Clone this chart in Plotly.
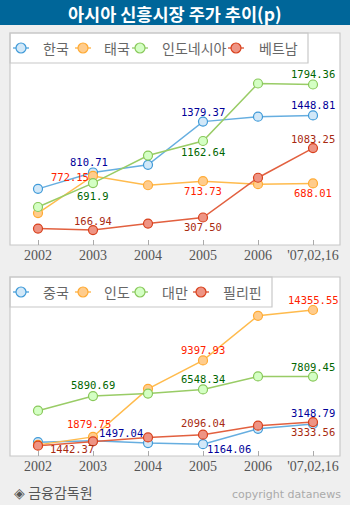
import plotly.graph_objects as go

W, H = 350, 505

years = ["2002", "2003", "2004", "2005", "2006", "'07,02,16"]

# Top panel series
korea = [627.55, 810.71, 895.92, 1379.37, 1434.46, 1448.81]
thailand = [356.48, 772.15, 668.10, 713.73, 679.84, 688.01]
indonesia = [424.95, 691.90, 1000.23, 1162.64, 1805.52, 1794.36]
vietnam = [183.33, 166.94, 239.29, 307.50, 751.77, 1083.25]

# Bottom panel series
china = [1357.65, 1497.04, 1266.50, 1164.06, 2675.47, 3148.79]
india = [1093.50, 1879.75, 6602.69, 9397.93, 13786.91, 14355.55]
taiwan = [4452.45, 5890.69, 6139.69, 6548.34, 7823.72, 7809.45]
philippines = [1018.41, 1442.37, 1822.83, 2096.04, 2982.54, 3333.56]

top_names = ["한국", "태국", "인도네시아", "베트남"]
bot_names = ["중국", "인도", "대만", "필리핀"]

BLUE = dict(line="#66aee0", fill="#d2e8f8", edge="#3f9ad8")
ORANGE = dict(line="#ffbb4d", fill="#ffcc8c", edge="#ffaa33")
GREEN = dict(line="#99cc66", fill="#d4ffc4", edge="#88c85a")
RED = dict(line="#e2603f", fill="#ee9484", edge="#d8401c")
styles = [BLUE, ORANGE, GREEN, RED]

NAVY, DKGREEN, BRRED, DKRED = "#000099", "#006600", "#ff2200", "#a82a10"


def px(x):
    return x / W


def py(y):
    return 1 - y / H


fig = go.Figure()

x_idx = list(range(len(years)))

for series, st, nm in zip([korea, thailand, indonesia, vietnam], styles, top_names):
    fig.add_trace(go.Scatter(
        x=x_idx, y=series, mode="lines+markers", name=nm, xaxis="x", yaxis="y",
        line=dict(color=st["line"], width=1.5),
        marker=dict(size=9, color=st["fill"], line=dict(color=st["edge"], width=1.2)),
        showlegend=False, hoverinfo="skip"))

for series, st, nm in zip([china, india, taiwan, philippines], styles, bot_names):
    fig.add_trace(go.Scatter(
        x=x_idx, y=series, mode="lines+markers", name=nm, xaxis="x2", yaxis="y2",
        line=dict(color=st["line"], width=1.5),
        marker=dict(size=9, color=st["fill"], line=dict(color=st["edge"], width=1.2)),
        showlegend=False, hoverinfo="skip"))

# Data labels: (series, index, color, xshift, yshift, axis)
labels = [
    (korea, 1, NAVY, -4, 10, 1), (thailand, 1, BRRED, -23, -1, 1),
    (indonesia, 1, DKGREEN, 0, -13, 1), (vietnam, 1, DKRED, 0, 9, 1),
    (korea, 3, NAVY, 0, 10, 1), (indonesia, 3, DKGREEN, 0, -11, 1),
    (thailand, 3, BRRED, 0, -10, 1), (vietnam, 3, DKRED, 0, -10, 1),
    (indonesia, 5, DKGREEN, 0, 10, 1), (korea, 5, NAVY, 0, 10, 1),
    (vietnam, 5, DKRED, 0, 9, 1), (thailand, 5, BRRED, 0, -10, 1),
    (india, 5, BRRED, 0, 10, 2), (india, 3, BRRED, 0, 10, 2),
    (taiwan, 5, DKGREEN, 0, 10, 2), (taiwan, 1, DKGREEN, 0, 11, 2),
    (taiwan, 3, DKGREEN, 0, 10, 2), (india, 1, BRRED, -4, 13, 2),
    (china, 1, NAVY, 28, 8, 2), (philippines, 1, DKRED, -21, -8, 2),
    (philippines, 3, DKRED, 0, 12, 2), (china, 3, NAVY, 26, -5, 2),
    (china, 5, NAVY, 0, 11, 2), (philippines, 5, DKRED, 0, -10, 2),
]

annotations = []
for s, i, c, dx, dy, ax in labels:
    v = s[i]
    txt = f"{v:.2f}" if not (abs(v - 691.9) < 1e-6) else "691.9"
    annotations.append(dict(
        x=x_idx[i], y=v, xref="x" if ax == 1 else "x2", yref="y" if ax == 1 else "y2",
        text=txt, showarrow=False, xshift=dx, yshift=dy,
        font=dict(family="DejaVu Sans Mono", size=10.5, color=c)))

shapes = []
# title bar
shapes.append(dict(type="rect", xref="paper", yref="paper", x0=0, x1=1, y0=py(25), y1=1,
                   fillcolor="#006699", line=dict(width=0), layer="below"))
# panels
for (t, b, lr) in [(33, 245, 308), (277, 456, 272)]:
    shapes.append(dict(type="rect", xref="paper", yref="paper", x0=px(10), x1=px(340),
                       y0=py(b), y1=py(t), fillcolor="white",
                       line=dict(color="#c8c8c8", width=1.2), layer="below"))
    shapes.append(dict(type="rect", xref="paper", yref="paper", x0=px(10), x1=px(lr),
                       y0=py(t + 30), y1=py(t), fillcolor="rgba(0,0,0,0)",
                       line=dict(color="#c8c8c8", width=1.2), layer="below"))

# manual legends
leg_specs = [
    (top_names, [21, 83, 140, 236], [41, 102, 160, 257], 48),
    (bot_names, [21, 83, 140, 201], [41, 102, 160, 221], 292),
]
for names, mx, tx, yc in leg_specs:
    for nm, m, t, st in zip(names, mx, tx, styles):
        shapes.append(dict(type="line", xref="paper", yref="paper", x0=px(m - 8), x1=px(m + 8),
                           y0=py(yc), y1=py(yc), line=dict(color=st["edge"], width=1.2)))
        shapes.append(dict(type="circle", xref="paper", yref="paper", x0=px(m - 5), x1=px(m + 5),
                           y0=py(yc + 5), y1=py(yc - 5), fillcolor=st["fill"],
                           line=dict(color=st["edge"], width=1.2)))
        annotations.append(dict(x=px(t), y=py(yc), xref="paper", yref="paper", text=nm,
                                showarrow=False, xanchor="left", yanchor="middle",
                                font=dict(family="Noto Sans CJK KR", size=14, color="#666666")))

annotations.append(dict(x=0.5, y=py(13), xref="paper", yref="paper",
                        text="<b>아시아 신흥시장 주가 추이(p)</b>", showarrow=False,
                        xanchor="center", yanchor="middle",
                        font=dict(family="Noto Sans CJK KR", size=17.5, color="white")))
annotations.append(dict(x=px(12), y=py(492), xref="paper", yref="paper",
                        text="◈ 금융감독원", showarrow=False, xanchor="left", yanchor="middle",
                        font=dict(family="Noto Sans CJK KR", size=14, color="#555555")))
annotations.append(dict(x=px(343), y=py(494), xref="paper", yref="paper",
                        text="copyright datanews", showarrow=False, xanchor="right",
                        yanchor="middle",
                        font=dict(family="DejaVu Sans", size=11, color="#aaaaaa")))

xcommon = dict(range=[-0.509, 5.491], tickvals=x_idx, ticktext=years, ticks="inside",
               ticklen=5, tickcolor="#aaaaaa", showgrid=False, zeroline=False,
               showline=False, fixedrange=True,
               tickfont=dict(family="Liberation Sans Narrow", size=14, color="#555555"))

fig.update_layout(
    width=W, height=H, margin=dict(l=0, r=0, t=0, b=0),
    paper_bgcolor="#efefef", plot_bgcolor="rgba(0,0,0,0)",
    xaxis=dict(domain=[px(10), px(340)], anchor="y", **xcommon),
    yaxis=dict(domain=[py(245), py(33)], range=[0, 2370], visible=False),
    xaxis2=dict(domain=[px(10), px(340)], anchor="y2", **xcommon),
    yaxis2=dict(domain=[py(456), py(277)], range=[0, 17600], visible=False),
    shapes=shapes, annotations=annotations, showlegend=False,
)

fig.write_html("out.html")
